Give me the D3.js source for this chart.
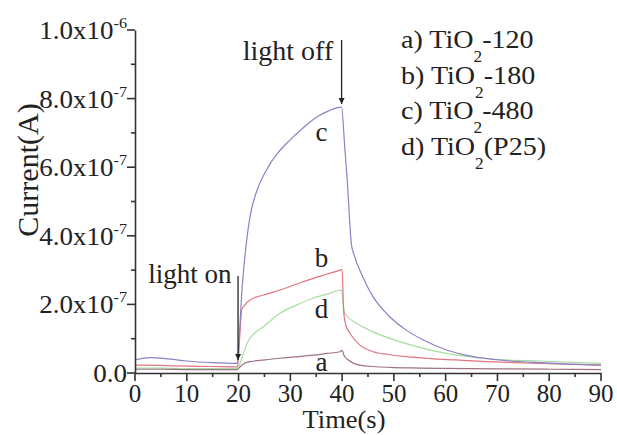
<!DOCTYPE html>
<html>
<head>
<meta charset="utf-8">
<script src="https://cdn.jsdelivr.net/npm/d3@7"></script>
<style>
  html, body { margin: 0; padding: 0; background: #fff; }
  svg { display: block; }
  text { font-family: "Liberation Serif", "Times New Roman", serif; fill: #222; }
</style>
</head>
<body>
<svg id="chart" width="617" height="435"></svg>
<script>
// ---- data (current in units of 1e-7 A) ----
const seriesNames = ["a", "b", "c", "d"];
const legendLabels = [["a) TiO", "-120"], ["b) TiO", "-180"], ["c) TiO", "-480"], ["d) TiO", "(P25)"]];
const xTickValues = [0, 10, 20, 30, 40, 50, 60, 70, 80, 90];
const yTickValues = [0, 2, 4, 6, 8, 10];
const yTickMantissa = ["0.0", "2.0x10", "4.0x10", "6.0x10", "8.0x10", "1.0x10"];
const yTickExponent = ["", "-7", "-7", "-7", "-7", "-6"];

const timeA = [0, 5, 10, 15, 19.8, 20.3, 21, 22.2, 25, 28, 31, 34.4, 37, 39.6, 40, 40.4, 41.2, 43.4, 46, 49.2, 55, 58.9, 70, 80, 90];
const currA = [0.11, 0.11, 0.10, 0.10, 0.10, 0.18, 0.27, 0.33, 0.38, 0.43, 0.47, 0.52, 0.57, 0.62, 0.66, 0.50, 0.38, 0.23, 0.19, 0.165, 0.145, 0.135, 0.12, 0.11, 0.10];

const timeB = [0, 5, 10, 15, 19.8, 20.2, 20.6, 21.2, 22.2, 25, 28, 31, 34.4, 37, 39.6, 40, 40.3, 40.7, 41.5, 43.4, 46, 49, 52.4, 57, 62, 67, 71.8, 80, 90];
const currB = [0.23, 0.22, 0.20, 0.19, 0.18, 1.0, 1.84, 1.98, 2.13, 2.28, 2.42, 2.58, 2.76, 2.88, 3.0, 3.02, 1.8, 1.4, 1.16, 0.82, 0.62, 0.54, 0.475, 0.42, 0.38, 0.34, 0.31, 0.27, 0.23];

const timeC = [0, 3, 6, 10, 15, 19.8, 20.2, 20.6, 21.2, 22.2, 23.5, 25.4, 27.5, 29.9, 32.5, 35.1, 37.5, 39.9, 40.5, 41, 41.8, 42.3, 44, 46, 49.2, 52.4, 55.7, 60.2, 65.3, 71.8, 78.2, 84, 90];
const currC = [0.38, 0.45, 0.42, 0.35, 0.30, 0.28, 1.2, 2.3, 3.35, 4.55, 5.3, 5.92, 6.4, 6.79, 7.15, 7.46, 7.65, 7.75, 6.6, 5.6, 3.75, 3.45, 2.8, 2.22, 1.64, 1.25, 0.96, 0.67, 0.475, 0.36, 0.30, 0.26, 0.23];

const timeD = [0, 5, 10, 15, 19.8, 20.3, 21, 21.8, 23, 24.8, 28, 31.2, 34.4, 37.6, 39.9, 40.3, 40.6, 42.8, 46, 49.2, 55.7, 60.2, 65.3, 71.8, 78.2, 90];
const currD = [0.14, 0.14, 0.13, 0.13, 0.13, 0.29, 0.6, 0.92, 1.15, 1.35, 1.74, 1.98, 2.18, 2.32, 2.42, 1.9, 1.72, 1.45, 1.20, 1.01, 0.72, 0.57, 0.46, 0.38, 0.35, 0.28];

const seriesColors = ["#a07088", "#e07480", "#8c80c8", "#a8dca0"];

// ---- build ----
const svg = d3.select("#chart");
const x = d3.scaleLinear().domain([0, 90]).range([135, 601]);
const y = d3.scaleLinear().domain([0, 10]).range([373, 30]);

const series = [
  { name: "a", t: timeA, v: currA, color: seriesColors[0] },
  { name: "b", t: timeB, v: currB, color: seriesColors[1] },
  { name: "c", t: timeC, v: currC, color: seriesColors[2] },
  { name: "d", t: timeD, v: currD, color: seriesColors[3] }
];

const line = d3.line().x(d => x(d[0])).y(d => y(d[1])).curve(d3.curveMonotoneX);

[series[3], series[0], series[1], series[2]].forEach(s => {
  svg.append("path")
    .datum(s.t.map((t, i) => [t, s.v[i]]))
    .attr("fill", "none")
    .attr("stroke", s.color)
    .attr("stroke-width", 1.2)
    .attr("d", line);
});

// axes
const axisColor = "#333";
const xAxis = svg.append("g").attr("transform", `translate(0,${y(0)})`)
  .call(d3.axisBottom(x).tickValues(d3.range(0, 91, 5)).tickSize(0).tickFormat(""));
xAxis.select(".domain").attr("stroke", axisColor).attr("stroke-width", 1.6);
xAxis.selectAll(".tick text").remove();
d3.range(0, 91, 5).forEach(v => {
  const major = v % 10 === 0;
  xAxis.append("line").attr("x1", x(v)).attr("x2", x(v)).attr("y1", 0).attr("y2", major ? 8 : 4)
    .attr("stroke", axisColor).attr("stroke-width", 1.6);
});
xTickValues.forEach(v => {
  svg.append("text").attr("x", x(v)).attr("y", 402).attr("text-anchor", "middle")
    .attr("font-size", 25).text(v);
});

const yAxis = svg.append("g").attr("transform", `translate(${x(0)},0)`)
  .call(d3.axisLeft(y).tickValues(d3.range(0, 10.1, 1)).tickSize(0).tickFormat(""));
yAxis.select(".domain").attr("stroke", axisColor).attr("stroke-width", 1.6);
yAxis.selectAll(".tick text").remove();
d3.range(0, 11, 1).forEach(v => {
  const major = v % 2 === 0;
  yAxis.append("line").attr("x1", 0).attr("x2", major ? -8 : -4).attr("y1", y(v)).attr("y2", y(v))
    .attr("stroke", axisColor).attr("stroke-width", 1.6);
});
yTickValues.forEach((v, i) => {
  const t = svg.append("text").attr("text-anchor", "end")
    .attr("transform", `translate(127,${y(v) + 9}) scale(1.08,1)`)
    .attr("font-size", 25);
  t.append("tspan").text(yTickMantissa[i]);
  if (yTickExponent[i]) t.append("tspan").attr("dy", -11).attr("font-size", 15).text(yTickExponent[i]);
});

// axis titles
svg.append("text").attr("x", 344).attr("y", 428.5).attr("text-anchor", "middle")
  .attr("font-size", 25).attr("transform", "translate(344,0) scale(1.06,1) translate(-344,0)")
  .text("Time(s)");
svg.append("text").attr("transform", `translate(38,170) rotate(-90)`).attr("text-anchor", "middle")
  .attr("font-size", 30).text("Current(A)");

// legend
legendLabels.forEach((lab, i) => {
  const t = svg.append("text")
    .attr("transform", `translate(401,${48 + i * 35.5}) scale(1.08,1)`)
    .attr("font-size", 26);
  t.append("tspan").text(lab[0]);
  t.append("tspan").attr("dy", 14).attr("font-size", 16).text("2");
  t.append("tspan").attr("dy", -14).text(lab[1]);
});

// series labels
const labelPos = { a: [36, 0.05], b: [36, 3.1], c: [36, 6.75], d: [36, 1.6] };
seriesNames.forEach(n => {
  svg.append("text").attr("x", x(labelPos[n][0])).attr("y", y(labelPos[n][1]))
    .attr("text-anchor", "middle").attr("font-size", 27).text(n);
});

// annotations
svg.append("defs").append("marker").attr("id", "arr").attr("viewBox", "0 0 10 10")
  .attr("refX", 10).attr("refY", 5).attr("markerWidth", 6).attr("markerHeight", 8)
  .attr("markerUnits", "userSpaceOnUse").attr("orient", "auto")
  .append("path").attr("d", "M0,0 L10,5 L0,10 z").attr("fill", "#222");

svg.append("text").attr("x", 190).attr("y", 283).attr("text-anchor", "middle").attr("font-size", 27).text("light on");
svg.append("line").attr("x1", x(20) - 0.5).attr("x2", x(20) - 0.5).attr("y1", 276).attr("y2", 360)
  .attr("stroke", "#222").attr("stroke-width", 1.3).attr("marker-end", "url(#arr)");

svg.append("text").attr("x", 288).attr("y", 60).attr("text-anchor", "middle").attr("font-size", 28).text("light off");
svg.append("line").attr("x1", x(40) - 0.5).attr("x2", x(40) - 0.5).attr("y1", 40).attr("y2", 104)
  .attr("stroke", "#222").attr("stroke-width", 1.3).attr("marker-end", "url(#arr)");
</script>
</body>
</html>
